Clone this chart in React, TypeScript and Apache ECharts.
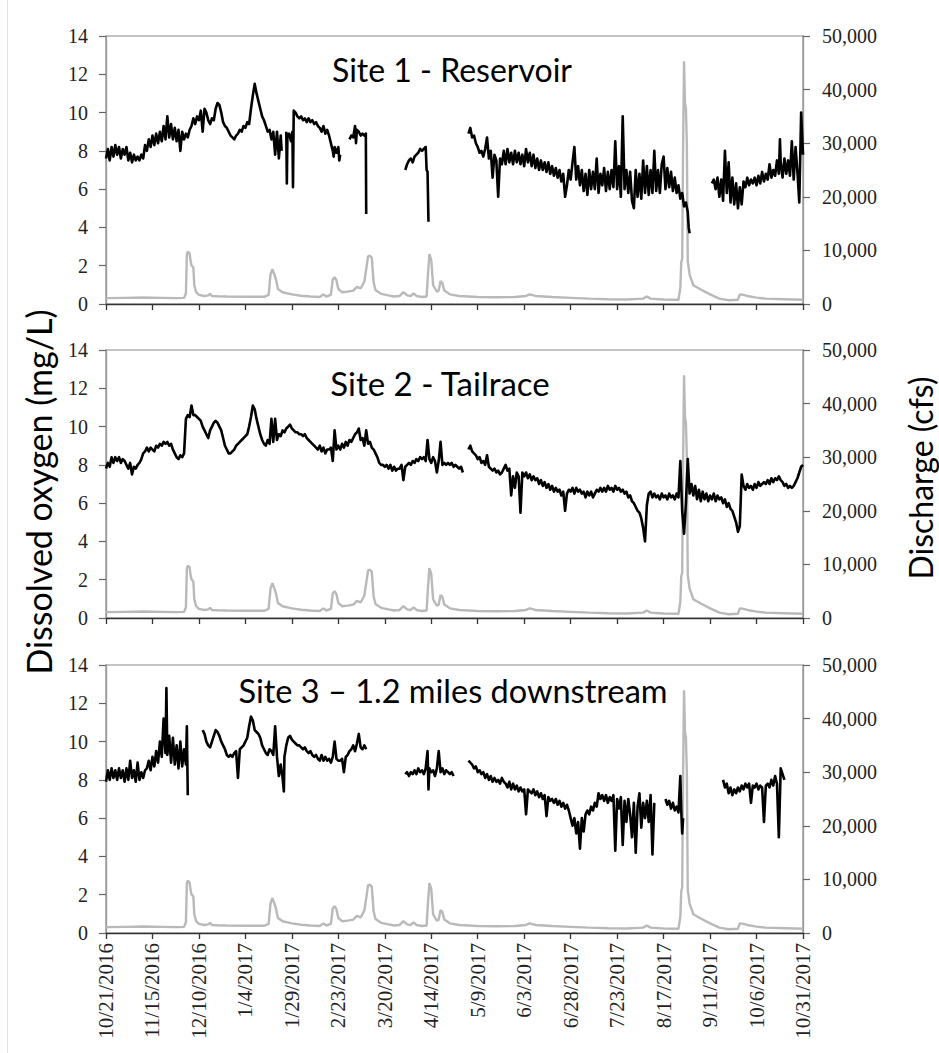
import React, { useEffect, useRef } from "react";
import * as echarts from "echarts";

type Pt = [number, number | null];

// X axis: days since 10/21/2016, one tick every 25 days
const tickLabels = [
  "10/21/2016", "11/15/2016", "12/10/2016", "1/4/2017", "1/29/2017", "2/23/2017",
  "3/20/2017", "4/14/2017", "5/9/2017", "6/3/2017", "6/28/2017", "7/23/2017",
  "8/17/2017", "9/11/2017", "10/6/2017", "10/31/2017",
];

const siteTitles = ["Site 1 - Reservoir", "Site 2 - Tailrace", "Site 3 \u2013 1.2 miles downstream"];

// Discharge (cfs), same gauge for all panels
const discharge: Pt[] = [
  [0, 1100], [10, 1150], [20, 1200], [30, 1150], [38, 1100], [42, 1150], [43, 2000], [43.5, 9200], [44, 9800],
  [45, 9400], [45.5, 8000], [46, 7200], [47, 6800], [47.5, 3500], [48.5, 2200], [50, 1700], [53, 1500],
  [55, 1600], [56, 1900], [57, 1500], [60, 1450], [65, 1400], [75, 1350], [85, 1350], [87.5, 1700],
  [88.5, 5500], [89.5, 6500], [90.5, 5600], [91.5, 4500], [92.5, 2800], [95, 2200], [100, 1800],
  [105, 1550], [110, 1400], [115, 1300], [117, 1800], [118.5, 1400], [121, 1700], [122, 4600],
  [123, 5000], [124, 4400], [125, 2800], [127, 2200], [130, 2300], [133, 2500], [135, 3200],
  [137, 2900], [139, 4200], [140, 6500], [141, 8900], [142, 9000], [143, 8600], [144, 4000],
  [145, 2600], [148, 1900], [152, 1600], [155, 1400], [158, 1500], [160, 2200], [162, 1600],
  [164, 1500], [165.5, 2000], [167, 1500], [170, 1300], [172.5, 1400], [173.2, 5500], [174, 9300],
  [175, 8200], [176, 3500], [178, 2300], [179, 2500], [180, 4300], [181, 3900], [182, 2500],
  [185, 1800], [190, 1500], [200, 1300], [210, 1250], [220, 1300], [226, 1500], [228, 1800],
  [231, 1500], [240, 1300], [250, 1150], [260, 1000], [270, 900], [280, 850], [289, 1000],
  [291, 1400], [293, 1000], [300, 850], [308, 800], [309, 3000], [309.5, 7800], [310, 8500],
  [310.5, 30000], [311, 45300], [311.5, 37500], [312, 36500], [312.5, 30000], [313, 8000],
  [314, 5500], [316, 3500], [320, 2700], [325, 1800], [330, 1000], [335, 700], [340, 800],
  [341, 1800], [343, 1700], [345, 1500], [350, 1200], [355, 1000], [365, 900], [375, 800],
];

// Dissolved oxygen (mg/L), Site 1 - Reservoir
const site1DO: Pt[] = [
  [0, 7.6], [1, 8.1], [2, 7.5], [3, 8.2], [4, 7.7], [5, 8.3], [6, 7.8], [7, 8.2], [8, 7.6], [9, 8.1],
  [10, 7.8], [11, 8.2], [12, 7.5], [13, 7.9], [14, 7.4], [15, 7.8], [16, 7.5], [17, 7.7], [18, 7.5],
  [19, 7.8], [20, 7.6], [21, 8.3], [22, 8.0], [23, 8.6], [24, 8.2], [25, 8.8], [26, 8.3], [27, 8.9],
  [28, 8.4], [29, 9.0], [30, 8.5], [31, 9.3], [32, 8.6], [33, 9.8], [34, 8.7], [35, 9.4], [36, 8.6],
  [37, 9.2], [38, 8.5], [39, 9.1], [40, 8.0], [41, 9.0], [42, 8.6], [43, 8.9], [44, 8.7], [45, 9.1],
  [46, 9.3], [47, 9.7], [48, 9.4], [49, 9.8], [50, 9.6], [51, 10.1], [52, 9.0], [53, 10.2], [54, 10.0],
  [55, 9.6], [56, 9.4], [57, 9.7], [58, 9.6], [59, 10.2], [60, 10.5], [61, 10.4], [62, 10.0], [63, 9.5],
  [64, 9.3], [65, 9.2], [66, 9.0], [67, 8.8], [68, 8.7], [69, 8.6], [70, 8.8], [71, 8.9], [72, 9.1],
  [73, 9.0], [74, 9.3], [75, 9.2], [76, 9.5], [77, 9.4], [78, 10.2], [79, 10.9], [80, 11.5], [81, 11.0],
  [82, 10.6], [83, 10.2], [84, 9.8], [85, 9.6], [86, 9.3], [87, 9.0], [88, 9.1], [89, 8.6], [90, 9.0],
  [91, 7.8], [92, 9.0], [93, 7.6], [94, 8.8], [94.5, 8.0], [95.5, null],
  [97, 9.0], [97.3, 6.3], [97.6, 8.8], [98.5, 8.9], [99.5, 8.5], [100.3, 9.0], [100.6, 6.1], [101, 10.1],
  [102, 10.0], [103, 9.8], [104, 9.7], [105, 9.8], [106, 9.6], [107, 9.7], [108, 9.5], [109, 9.7],
  [110, 9.5], [111, 9.6], [112, 9.4], [113, 9.5], [114, 9.3], [115, 9.2], [116, 9.0], [117, 9.3],
  [118, 8.9], [119, 9.1], [120, 8.8], [121, 8.4], [122, 8.0], [122.5, 7.7], [123, 8.2], [124, 7.9],
  [125, 8.2], [125.5, 7.5], [126, 7.8], [127, null],
  [131, 8.6], [132, 8.8], [133, 8.7], [134, 9.3], [134.5, 8.4], [135, 9.1], [136, 9.0], [137, 8.8],
  [138, 8.9], [139, 8.8], [139.8, 8.9], [140, 4.7], [141, null],
  [161, 7.0], [162, 7.3], [163, 7.5], [164, 7.6], [165, 7.4], [166, 7.7], [167, 7.8], [168, 7.9],
  [169, 8.1], [170, 8.0], [171, 8.1], [172, 8.2], [172.5, 7.0], [173, 6.9], [173.5, 4.3], [175, null],
  [195, 8.9], [196, 9.2], [197, 8.7], [198, 8.8], [199, 8.4], [200, 8.2], [201, 7.9], [202, 8.0],
  [203, 7.7], [204, 8.1], [205, 8.7], [206, 7.6], [207, 8.0], [208, 6.6], [209, 7.8], [210, 7.5],
  [211, 5.6], [212, 7.6], [213, 7.3], [214, 8.0], [215, 7.3], [216, 8.1], [217, 7.4], [218, 7.9],
  [219, 7.3], [220, 8.0], [221, 7.4], [222, 7.9], [223, 7.3], [224, 7.8], [225, 7.2], [226, 8.1],
  [227, 7.4], [228, 7.9], [229, 7.2], [230, 7.8], [231, 7.1], [232, 7.6], [233, 7.0], [234, 7.5],
  [235, 7.0], [236, 7.4], [237, 6.9], [238, 7.4], [239, 6.8], [240, 7.2], [241, 6.7], [242, 7.1],
  [243, 6.6], [244, 7.0], [245, 6.4], [246, 6.8], [247, 5.6], [248, 6.2], [249, 7.0], [250, 6.5],
  [251, 7.4], [252, 8.2], [253, 6.5], [254, 7.2], [255, 6.2], [256, 7.0], [257, 5.9], [258, 6.8],
  [259, 5.7], [260, 7.0], [261, 6.0], [262, 6.9], [263, 6.0], [264, 7.6], [265, 5.8], [266, 6.8],
  [267, 6.2], [268, 7.1], [269, 5.9], [270, 6.9], [271, 6.0], [272, 7.0], [273, 6.1], [274, 8.5],
  [275, 6.0], [276, 7.2], [277, 5.6], [278, 9.8], [279, 6.0], [280, 7.0], [281, 5.8], [282, 6.9],
  [283, 5.4], [284, 5.0], [285, 7.0], [286, 5.6], [287, 6.8], [288, 5.5], [289, 7.5], [290, 5.8],
  [291, 7.2], [292, 5.7], [293, 7.0], [294, 5.8], [295, 8.0], [296, 5.9], [297, 7.0], [298, 5.8],
  [299, 7.3], [300, 7.7], [301, 6.0], [302, 7.1], [303, 6.1], [304, 6.9], [305, 5.9], [306, 6.6],
  [307, 5.8], [308, 6.2], [309, 5.5], [310, 5.8], [311, 5.1], [312, 5.3], [313, 4.8], [313.5, 4.0],
  [314, 3.7], [316, null],
  [326, 6.3], [327, 6.5], [328, 6.0], [329, 6.6], [330, 5.6], [331, 6.5], [332, 5.4], [333, 8.0],
  [334, 5.8], [335, 7.4], [336, 5.3], [337, 6.6], [338, 5.2], [339, 6.3], [340, 5.0], [341, 6.1],
  [342, 5.2], [343, 6.4], [344, 6.1], [345, 6.6], [346, 6.2], [347, 6.5], [348, 6.3], [349, 6.6],
  [350, 6.2], [351, 6.7], [352, 6.3], [353, 6.9], [354, 6.4], [355, 6.8], [356, 6.5], [357, 7.3],
  [358, 6.6], [359, 7.0], [360, 6.7], [361, 7.5], [362, 6.8], [362.6, 8.6], [363, 7.4], [364, 6.6],
  [365, 7.6], [366, 6.8], [367, 7.5], [368, 6.7], [369, 8.5], [370, 6.5], [371, 8.2], [372, 6.9],
  [373, 5.3], [374, 10.0], [375, 7.8],
];

// Dissolved oxygen (mg/L), Site 2 - Tailrace
const site2DO: Pt[] = [
  [0, 7.8], [1, 8.1], [2, 7.9], [3, 8.4], [4, 8.1], [5, 8.4], [6, 8.2], [7, 8.4], [8, 8.1], [9, 8.3],
  [10, 8.2], [11, 8.0], [12, 7.8], [13, 8.1], [14, 7.5], [15, 7.9], [16, 7.8], [17, 8.0], [18, 8.1],
  [19, 8.3], [20, 8.6], [21, 8.7], [22, 8.9], [23, 8.7], [24, 8.9], [25, 8.8], [26, 8.7], [27, 9.0],
  [28, 8.9], [29, 9.1], [30, 9.0], [31, 9.2], [32, 9.1], [33, 9.2], [34, 9.0], [35, 9.1], [36, 8.8],
  [37, 8.6], [38, 8.4], [39, 8.3], [40, 8.5], [41, 8.4], [42, 8.6], [43, 10.4], [44, 10.6], [45, 10.5],
  [46, 11.1], [47, 10.6], [48, 10.6], [49, 10.5], [50, 10.4], [51, 10.3], [52, 10.0], [53, 9.8],
  [54, 9.6], [55, 9.4], [56, 9.8], [57, 10.0], [58, 10.2], [59, 10.3], [60, 10.2], [61, 10.0],
  [62, 9.8], [63, 9.4], [64, 9.0], [65, 8.8], [66, 8.6], [67, 8.6], [68, 8.7], [69, 8.8], [70, 9.0],
  [71, 9.1], [72, 9.2], [73, 9.3], [74, 9.4], [75, 9.5], [76, 9.6], [77, 10.0], [78, 10.5], [79, 11.1],
  [80, 10.9], [81, 10.4], [82, 10.0], [83, 9.6], [84, 9.3], [85, 9.1], [86, 9.0], [87, 9.3], [88, 9.1],
  [89, 10.4], [90, 9.2], [91, 10.4], [92, 9.3], [93, 9.6], [94, 9.5], [95, 9.8], [96, 9.7], [97, 9.9],
  [98, 10.0], [99, 10.1], [100, 9.9], [101, 9.8], [102, 9.7], [103, 9.7], [104, 9.6], [105, 9.6],
  [106, 9.5], [107, 9.6], [108, 9.4], [109, 9.3], [110, 9.2], [111, 9.1], [112, 9.0], [113, 8.9],
  [114, 8.8], [115, 9.0], [116, 8.7], [117, 8.9], [118, 8.6], [119, 8.8], [120, 8.8], [121, 8.9],
  [122, 8.2], [123, 9.8], [124, 8.8], [125, 9.0], [126, 8.8], [127, 9.1], [128, 8.9], [129, 9.2],
  [130, 9.0], [131, 9.3], [132, 9.2], [133, 9.4], [134, 9.6], [135, 9.7], [136, 9.9], [137, 9.3],
  [138, 9.4], [139, 9.0], [140, 9.8], [141, 9.1], [142, 9.2], [143, 8.9], [144, 8.8], [145, 8.6],
  [146, 8.4], [147, 8.1], [148, 8.0], [149, 8.0], [150, 7.9], [151, 8.0], [152, 7.8], [153, 8.0],
  [154, 7.7], [155, 7.9], [156, 7.7], [157, 7.8], [158, 7.8], [159, 8.0], [160, 7.2], [161, 7.9],
  [162, 8.0], [163, 8.1], [164, 8.0], [165, 8.2], [166, 8.1], [167, 8.3], [168, 8.2], [169, 8.4],
  [170, 8.3], [171, 8.4], [172, 8.2], [173, 9.3], [174, 8.3], [175, 8.1], [176, 8.4], [177, 8.2],
  [178, 7.6], [179, 8.2], [180, 9.2], [181, 8.0], [182, 8.1], [183, 8.0], [184, 8.1], [185, 8.0],
  [186, 8.1], [187, 7.9], [188, 8.0], [189, 7.9], [190, 7.8], [191, 7.9], [192, 7.6], [193.5, null],
  [195, 8.8], [196, 9.0], [197, 8.7], [198, 8.6], [199, 8.5], [200, 8.3], [201, 8.4], [202, 8.1],
  [203, 8.2], [204, 8.0], [205, 8.5], [206, 7.9], [207, 7.8], [208, 7.7], [209, 7.8], [210, 7.6],
  [211, 7.7], [212, 7.5], [213, 7.6], [214, 7.8], [215, 8.0], [216, 7.7], [217, 7.8], [218, 6.4],
  [219, 7.4], [220, 6.8], [221, 7.6], [222, 7.4], [223, 5.5], [224, 7.6], [225, 7.4], [226, 7.6],
  [227, 7.3], [228, 7.5], [229, 7.2], [230, 7.4], [231, 7.2], [232, 7.3], [233, 7.0], [234, 7.2],
  [235, 6.9], [236, 7.1], [237, 6.8], [238, 7.0], [239, 6.7], [240, 6.9], [241, 6.6], [242, 6.8],
  [243, 6.6], [244, 6.7], [245, 6.4], [246, 6.6], [247, 5.6], [248, 6.5], [249, 6.7], [250, 6.6],
  [251, 6.8], [252, 6.5], [253, 6.8], [254, 6.6], [255, 6.7], [256, 6.5], [257, 6.6], [258, 6.3],
  [259, 6.6], [260, 6.4], [261, 6.6], [262, 6.3], [263, 6.5], [264, 6.7], [265, 6.6], [266, 6.8],
  [267, 6.6], [268, 6.8], [269, 6.6], [270, 6.9], [271, 6.7], [272, 6.8], [273, 6.6], [274, 6.9],
  [275, 6.7], [276, 6.8], [277, 6.6], [278, 6.7], [279, 6.5], [280, 6.6], [281, 6.3], [282, 6.4],
  [283, 6.1], [284, 6.0], [285, 5.8], [286, 5.6], [287, 5.5], [288, 5.2], [289, 4.7], [290, 4.0],
  [291, 5.9], [292, 6.5], [293, 6.6], [294, 6.3], [295, 6.5], [296, 6.3], [297, 6.4], [298, 6.2],
  [299, 6.5], [300, 6.3], [301, 6.4], [302, 6.2], [303, 6.5], [304, 6.3], [305, 6.4], [306, 6.2],
  [307, 6.5], [308, 6.3], [309, 8.2], [310, 5.6], [311, 4.4], [312, 6.0], [313, 8.3], [314, 6.5],
  [315, 7.0], [316, 6.4], [317, 6.9], [318, 6.2], [319, 6.7], [320, 6.1], [321, 6.6], [322, 6.2],
  [323, 6.5], [324, 6.1], [325, 6.4], [326, 6.2], [327, 6.5], [328, 6.1], [329, 6.4], [330, 6.2],
  [331, 6.3], [332, 6.0], [333, 6.2], [334, 5.8], [335, 6.0], [336, 5.7], [337, 5.6], [338, 5.3],
  [339, 5.0], [340, 4.5], [341, 4.8], [342, 7.5], [343, 6.9], [344, 6.7], [345, 7.0], [346, 6.8],
  [347, 6.9], [348, 6.7], [349, 7.0], [350, 6.8], [351, 7.1], [352, 6.9], [353, 7.0], [354, 7.1],
  [355, 7.0], [356, 7.2], [357, 7.0], [358, 7.3], [359, 7.1], [360, 7.3], [361, 7.2], [362, 7.4],
  [363, 7.2], [364, 7.1], [365, 6.9], [366, 7.0], [367, 6.8], [368, 6.9], [369, 6.8], [370, 6.9],
  [371, 7.1], [372, 7.3], [373, 7.6], [374, 7.9], [375, 8.0],
];

// Dissolved oxygen (mg/L), Site 3 - 1.2 miles downstream
const site3DO: Pt[] = [
  [0, 7.9], [1, 8.5], [2, 8.0], [3, 8.6], [4, 8.1], [5, 8.5], [6, 8.0], [7, 8.6], [8, 8.1], [9, 8.5],
  [10, 7.9], [11, 8.6], [12, 8.0], [13, 9.0], [14, 8.1], [15, 8.5], [16, 7.9], [17, 8.9], [18, 8.0],
  [19, 8.4], [20, 8.1], [21, 8.5], [22, 8.6], [23, 9.0], [24, 8.5], [25, 9.2], [26, 8.7], [27, 9.5],
  [28, 8.9], [29, 10.0], [30, 9.2], [31, 11.2], [32, 9.4], [32.5, 12.8], [33, 9.3], [34, 10.3],
  [35, 8.9], [36, 10.2], [37, 8.8], [38, 9.8], [39, 8.6], [40, 10.0], [41, 8.7], [42, 9.6], [43, 8.8],
  [43.5, 10.8], [44, 7.2], [46, null],
  [52, 10.6], [53, 10.4], [54, 10.0], [55, 9.8], [56, 9.7], [57, 10.0], [58, 10.3], [59, 10.6],
  [60, 10.5], [61, 10.3], [62, 10.0], [63, 9.8], [64, 9.6], [65, 9.3], [66, 9.2], [67, 9.3], [68, 9.2],
  [69, 9.4], [70, 9.5], [71, 8.1], [72, 9.6], [73, 9.7], [74, 9.8], [75, 10.0], [76, 10.2], [77, 10.8],
  [78, 11.3], [79, 11.1], [80, 10.6], [81, 10.5], [82, 10.4], [83, 10.2], [84, 9.8], [85, 9.6],
  [86, 9.4], [87, 9.3], [88, 9.6], [89, 9.5], [90, 9.3], [91, 10.8], [92, 9.2], [93, 8.2], [94, 8.8],
  [95, 8.1], [95.7, 7.4], [96, 9.2], [97, 9.8], [98, 10.2], [99, 10.3], [100, 10.1], [101, 10.0],
  [102, 9.9], [103, 9.8], [104, 9.8], [105, 9.7], [106, 9.6], [107, 9.7], [108, 9.5], [109, 9.4],
  [110, 9.5], [111, 9.3], [112, 9.2], [113, 9.3], [114, 9.1], [115, 9.0], [116, 9.3], [117, 9.0],
  [118, 9.2], [119, 9.0], [120, 9.1], [121, 8.9], [122, 9.2], [123, 10.0], [124, 9.1], [125, 9.0],
  [126, 9.0], [127, 9.1], [128, 8.4], [129, 9.2], [130, 9.3], [131, 9.5], [132, 9.6], [133, 9.8],
  [134, 9.5], [135, 9.9], [136, 10.4], [137, 9.7], [138, 9.6], [139, 9.8], [140, 9.6], [142, null],
  [161, 8.3], [162, 8.4], [163, 8.2], [164, 8.4], [165, 8.3], [166, 8.5], [167, 8.3], [168, 8.6],
  [169, 8.4], [170, 8.5], [171, 8.3], [172, 8.6], [173, 9.5], [173.5, 7.5], [174, 8.6], [175, 8.4],
  [176, 8.5], [177, 8.2], [178, 8.6], [179, 9.5], [180, 8.4], [181, 8.6], [182, 8.3], [183, 8.5],
  [184, 8.4], [185, 8.3], [186, 8.4], [187, 8.2], [190, null],
  [195, 9.0], [196, 8.9], [197, 8.8], [198, 8.6], [199, 8.7], [200, 8.4], [201, 8.5], [202, 8.3],
  [203, 8.4], [204, 8.1], [205, 8.3], [206, 8.0], [207, 8.2], [208, 7.9], [209, 8.1], [210, 7.9],
  [211, 8.0], [212, 7.8], [213, 8.1], [214, 7.9], [215, 7.8], [216, 7.6], [217, 7.9], [218, 7.5],
  [219, 7.8], [220, 7.5], [221, 7.7], [222, 7.4], [223, 7.6], [224, 7.4], [225, 7.5], [226, 6.2],
  [227, 7.5], [228, 7.4], [229, 7.3], [230, 7.5], [231, 7.2], [232, 7.4], [233, 7.1], [234, 7.3],
  [235, 7.0], [236, 7.2], [237, 6.1], [238, 7.1], [239, 6.9], [240, 7.0], [241, 6.8], [242, 7.0],
  [243, 6.7], [244, 6.9], [245, 6.6], [246, 6.8], [247, 6.5], [248, 6.7], [249, 6.4], [250, 6.0],
  [251, 5.6], [252, 6.0], [253, 5.2], [254, 5.8], [255, 4.4], [256, 6.0], [257, 5.3], [258, 6.2],
  [259, 6.4], [260, 6.2], [261, 6.6], [262, 6.4], [263, 6.8], [264, 6.6], [265, 7.3], [266, 7.0],
  [267, 7.2], [268, 6.9], [269, 7.2], [270, 6.8], [271, 7.1], [272, 6.9], [273, 7.2], [274, 4.3],
  [275, 7.0], [276, 6.5], [277, 7.1], [278, 4.6], [279, 6.9], [280, 5.8], [281, 7.0], [282, 6.2],
  [283, 5.0], [284, 6.8], [285, 4.2], [286, 6.6], [287, 7.3], [288, 5.5], [289, 6.8], [290, 6.0],
  [291, 6.9], [292, 5.8], [293, 7.2], [294, 4.1], [295, 6.8], [297, null],
  [301, 7.0], [302, 6.7], [303, 6.9], [304, 6.5], [305, 6.8], [306, 6.4], [307, 6.6], [308, 6.3],
  [309, 8.2], [309.5, 6.4], [310, 5.2], [310.5, 6.0], [312, null],
  [332, 8.0], [333, 7.6], [334, 7.8], [335, 7.3], [336, 7.6], [337, 7.2], [338, 7.5], [339, 7.3],
  [340, 7.6], [341, 7.4], [342, 7.7], [343, 7.5], [344, 7.8], [345, 7.6], [346, 7.8], [347, 6.8],
  [348, 7.7], [349, 7.6], [350, 7.8], [351, 7.5], [352, 7.7], [353, 7.6], [354, 5.8], [355, 7.7],
  [356, 7.8], [357, 7.6], [358, 8.0], [359, 7.7], [360, 8.2], [361, 7.8], [362, 5.0], [363, 8.6],
  [364, 8.3], [365, 8.0],
];

const doSeries = [site1DO, site2DO, site3DO];

const SERIF = "Liberation Serif";
const SANS = "Lato";

export default function App() {
  const ref = useRef<HTMLDivElement>(null);

  useEffect(() => {
    if (!ref.current) return;
    const chart = echarts.init(ref.current, null, { renderer: "svg" });

    const tops = [36, 350, 665];
    const gridH = 268;
    const left = 106;
    const width = 697;

    const grids = tops.map((t) => ({
      left,
      top: t,
      width,
      height: gridH,
      show: true,
      borderColor: "#8a8a8a",
      borderWidth: 1.2,
      backgroundColor: "transparent",
    }));

    const xAxes = tops.map((_, i) => ({
      type: "value" as const,
      gridIndex: i,
      min: 0,
      max: 375,
      interval: 25,
      axisLine: { show: true, onZero: false, lineStyle: { color: "#333", width: 1.3 } },
      axisTick: { show: true, inside: false, length: 6, lineStyle: { color: "#333", width: 1.3 } },
      splitLine: { show: false },
      axisLabel: {
        show: i === 2,
        rotate: 90,
        margin: 10,
        color: "#222",
        fontFamily: SERIF,
        fontSize: 21,
        formatter: (v: number) => tickLabels[Math.round(v / 25)] ?? "",
      },
    }));

    const yAxes: any[] = [];
    tops.forEach((_, i) => {
      yAxes.push({
        type: "value",
        gridIndex: i,
        position: "left",
        min: 0,
        max: 14,
        interval: 2,
        axisLine: { show: true, lineStyle: { color: "#999", width: 1.3 } },
        axisTick: { show: true, inside: false, length: 7, lineStyle: { color: "#666", width: 1.2 } },
        splitLine: { show: false },
        axisLabel: { margin: 18, color: "#222", fontFamily: SERIF, fontSize: 20 },
      });
      yAxes.push({
        type: "value",
        gridIndex: i,
        position: "right",
        min: 0,
        max: 50000,
        interval: 10000,
        axisLine: { show: true, lineStyle: { color: "#999", width: 1.3 } },
        axisTick: { show: true, inside: false, length: 7, lineStyle: { color: "#666", width: 1.2 } },
        splitLine: { show: false },
        axisLabel: {
          margin: 19,
          color: "#222",
          fontFamily: SERIF,
          fontSize: 20,
          formatter: (v: number) => v.toLocaleString("en-US"),
        },
      });
    });

    const series: any[] = [];
    tops.forEach((_, i) => {
      series.push({
        type: "line",
        name: "Discharge",
        xAxisIndex: i,
        yAxisIndex: i * 2 + 1,
        data: discharge,
        showSymbol: false,
        symbol: "none",
        lineStyle: { color: "#b9b9b9", width: 2.4 },
        z: 2,
      });
      series.push({
        type: "line",
        name: "Dissolved oxygen",
        xAxisIndex: i,
        yAxisIndex: i * 2,
        data: doSeries[i],
        showSymbol: false,
        symbol: "none",
        connectNulls: false,
        lineStyle: { color: "#000", width: 2.6, join: "round" },
        z: 3,
      });
    });

    const titles = [
      { x: 452, y: 69, size: 32 },
      { x: 440, y: 383, size: 33 },
      { x: 453, y: 690, size: 32.5 },
    ];

    const graphic: any[] = [
      {
        type: "line",
        shape: { x1: 7.5, y1: 0, x2: 7.5, y2: 1053 },
        style: { stroke: "#e2e2e2", lineWidth: 1 },
        silent: true,
      },
      ...siteTitles.map((t, i) => ({
        type: "text",
        x: titles[i].x,
        y: titles[i].y,
        style: {
          text: t,
          fill: "#000",
          fontFamily: SANS,
          fontSize: titles[i].size,
          textAlign: "center",
          textVerticalAlign: "middle",
        },
        z: 10,
      })),
      {
        type: "text",
        x: 38,
        y: 492,
        rotation: Math.PI / 2,
        style: {
          text: "Dissolved oxygen (mg/L)",
          fill: "#000",
          fontFamily: SANS,
          fontSize: 34,
          textAlign: "center",
          textVerticalAlign: "middle",
        },
      },
      {
        type: "text",
        x: 920,
        y: 478,
        rotation: Math.PI / 2,
        style: {
          text: "Discharge (cfs)",
          fill: "#000",
          fontFamily: SANS,
          fontSize: 32,
          textAlign: "center",
          textVerticalAlign: "middle",
        },
      },
    ];

    chart.setOption({
      animation: false,
      backgroundColor: "#fff",
      textStyle: { fontFamily: SERIF },
      grid: grids,
      xAxis: xAxes,
      yAxis: yAxes,
      series,
      graphic,
    });

    return () => chart.dispose();
  }, []);

  return (
    <div
      ref={ref}
      style={{ position: "fixed", left: 0, top: 0, width: 939, height: 1053, background: "#fff" }}
    />
  );
}
